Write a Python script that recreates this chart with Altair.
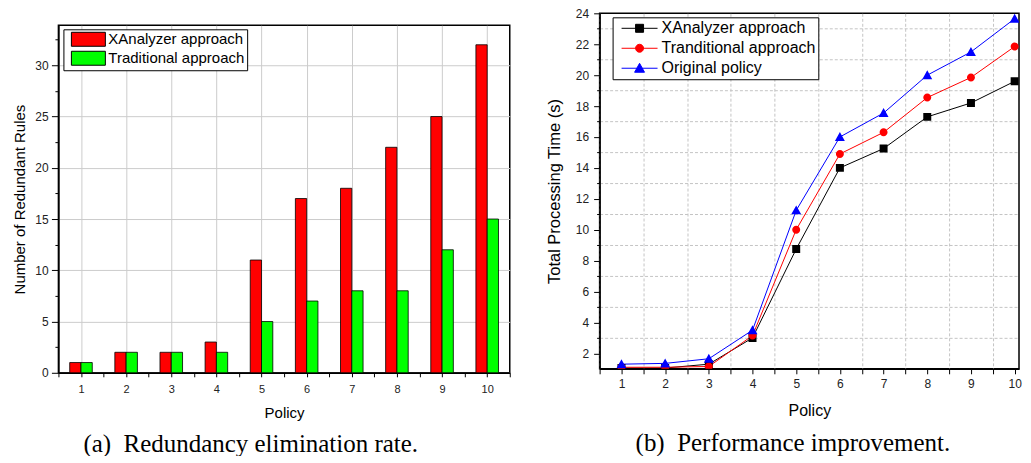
import altair as alt
import pandas as pd

# ---------------- data ----------------
policy = list(range(1, 11))

rule_series = ["XAnalyzer approach", "Traditional approach"]
xanalyzer_rules = [1, 2, 2, 3, 11, 17, 18, 22, 25, 32]
traditional_rules = [1, 2, 2, 2, 5, 7, 8, 8, 12, 15]

time_series = ["XAnalyzer approach", "Tranditional approach", "Original policy"]
xanalyzer_time = [1.05, 1.05, 1.3, 3.0, 8.75, 14.0, 15.25, 17.3, 18.2, 19.6]
traditional_time = [1.1, 1.1, 1.15, 3.15, 10.0, 14.9, 16.3, 18.55, 19.85, 21.85]
original_time = [1.3, 1.35, 1.65, 3.5, 11.25, 16.0, 17.55, 20.0, 21.5, 23.65]

left_y_ticks = [0, 5, 10, 15, 20, 25, 30]
left_y_minor = [2.5, 7.5, 12.5, 17.5, 22.5, 27.5, 32.5]
right_y_ticks = [2, 4, 6, 8, 10, 12, 14, 16, 18, 20, 22, 24]
right_y_minor = [3, 5, 7, 9, 11, 13, 15, 17, 19, 21, 23]
half_ticks = [0.5, 1.5, 2.5, 3.5, 4.5, 5.5, 6.5, 7.5, 8.5, 9.5, 10.5]

left_y_title = "Number of Redundant Rules"
right_y_title = "Total Processing Time (s)"
x_title = "Policy"
caption_a = "(a)\u00a0 Redundancy elimination rate."
caption_b = "(b)\u00a0 Performance improvement."

# ---------------- tables ----------------
rules_df = pd.DataFrame({
    "policy": policy * 2,
    "series": [s for s in rule_series for _ in policy],
    "idx": [i for i in range(len(rule_series)) for _ in policy],
    "rules": xanalyzer_rules + traditional_rules,
})
time_df = pd.DataFrame({
    "policy": policy * 3,
    "series": [s for s in time_series for _ in policy],
    "time": xanalyzer_time + traditional_time + original_time,
})
empty_df = pd.DataFrame({"v": pd.Series([], dtype="float64")})

SANS = "Liberation Sans"
SERIF = "Liberation Serif"
LABEL = "#222222"

# ---------------- left panel: grouped bars ----------------
x_scale_l = alt.Scale(domain=[0.5, 10.5], nice=False, zero=False)
y_scale_l = alt.Scale(domain=[0, 33.9], nice=False)

x_axis_l = alt.Axis(
    orient="bottom", values=policy, format="d", labelOverlap=False,
    labelFlush=False, labelBound=False,
    tickSize=4, tickColor="black", labelPadding=7, labelFontSize=11, labelFont=SANS,
    labelColor=LABEL, domainColor="black", domainWidth=1.5,
    title=x_title, titleFont=SANS, titleFontSize=15, titleFontWeight="normal",
    titleColor="black", titlePadding=10.5,
    grid=True, gridColor="#cccccc", gridWidth=1,
)
y_axis_l = alt.Axis(
    orient="left", values=left_y_ticks, format="d", labelOverlap=False,
    labelFlush=False, labelBound=False,
    tickSize=7, tickColor="black", labelPadding=3.3, labelFontSize=12, labelFont=SANS,
    labelColor=LABEL, domainColor="black", domainWidth=1.5, minExtent=24, maxExtent=24,
    title=left_y_title, titleFont=SANS, titleFontSize=15, titleFontWeight="normal",
    titleColor="black", titlePadding=6.5,
    grid=True, gridColor="#cccccc", gridWidth=1,
)

legend_l = alt.Legend(
    title=None, orient="none", legendX=5, legendY=16,
    symbolType="M-2.43,-1H2.43V1H-2.43Z", symbolSize=196,
    symbolStrokeColor="black", symbolStrokeWidth=1,
    symbolOffset=15, labelOffset=12.5, labelFont=SANS, labelFontSize=15,
    labelColor="black", rowPadding=0, padding=2.5,
    strokeColor="black", fillColor="white",
)

bars = alt.Chart(rules_df).transform_calculate(
    x_start="datum.policy - 0.25 + 0.25 * datum.idx",
    x_end="datum.policy + 0.25 * datum.idx",
).mark_bar(stroke="black", strokeWidth=0.8).encode(
    x=alt.X("x_start:Q", scale=x_scale_l, axis=x_axis_l),
    x2="x_end:Q",
    y=alt.Y("rules:Q", scale=y_scale_l, axis=y_axis_l),
    y2=alt.datum(0),
    color=alt.Color("series:N", scale=alt.Scale(domain=rule_series, range=["#ff0000", "#00ff00"]),
                    legend=legend_l),
)

minor_l = alt.Chart(rules_df).mark_point(opacity=0).encode(
    x=alt.X("policy:Q", scale=x_scale_l,
            axis=alt.Axis(orient="bottom", values=half_ticks, labels=False, tickSize=4,
                          tickColor="black", domain=False, grid=False, title=None)),
    y=alt.Y("rules:Q", scale=y_scale_l,
            axis=alt.Axis(orient="left", values=left_y_minor, labels=False, tickSize=3.5,
                          tickColor="black", domain=False, grid=False, title=None)),
)

left_panel = alt.layer(bars, minor_l).resolve_axis(x="independent", y="independent").properties(
    width=452, height=348,
    title=alt.TitleParams(caption_a, orient="bottom", anchor="start", frame="group", dx=25,
                          offset=12.3, font=SERIF, fontSize=25, fontWeight="normal",
                          color="black", baseline="top"),
)

# empty strip that lowers the left frame relative to the right one
spacer = alt.Chart(empty_df).mark_point().encode(
    x=alt.X("v:Q", axis=None), y=alt.Y("v:Q", axis=None)
).properties(width=452, height=11, view=alt.ViewBackground(stroke="transparent", strokeWidth=0))

left = alt.vconcat(spacer, left_panel, spacing=0)

# ---------------- right panel: lines with markers ----------------
x_scale_r = alt.Scale(domain=[0.5, 10.1], nice=False, zero=False)
y_scale_r = alt.Scale(domain=[1, 24], nice=False, zero=False)

x_axis_r = alt.Axis(
    orient="bottom", values=policy, format="d", labelOverlap=False,
    labelFlush=False, labelBound=False,
    tickSize=5, tickColor="black", labelPadding=5, labelFontSize=12, labelFont=SANS,
    labelColor=LABEL, domainColor="black", domainWidth=1.5,
    title=x_title, titleFont=SANS, titleFontSize=16, titleFontWeight="normal",
    titleColor="black", titlePadding=12.6, grid=False,
)
y_axis_r = alt.Axis(
    orient="left", values=right_y_ticks, format="d", labelOverlap=False,
    labelFlush=False, labelBound=False,
    tickSize=6, tickColor="black", labelPadding=5, labelFontSize=12, labelFont=SANS,
    labelColor=LABEL, domainColor="black", domainWidth=1.5, minExtent=24, maxExtent=24,
    title=right_y_title, titleFont=SANS, titleFontSize=16.5, titleFontWeight="normal",
    titleColor="black", titlePadding=12.7, grid=False,
)

time_colors = ["#000000", "#ff0000", "#0000ff"]
# marker paths; the horizontal segment is only stroked in the legend
marker_paths = [
    "M-2.25,0H2.25M-0.5,-0.5H0.5V0.5H-0.5Z",
    "M-2.25,0H2.25M-0.5,0A0.5,0.5,0,1,1,0.5,0A0.5,0.5,0,1,1,-0.5,0Z",
    "M-2.25,0H2.25M0,-0.62L0.62,0.5L-0.62,0.5Z",
]

legend_r = alt.Legend(
    title=None, orient="none", legendX=13, legendY=4,
    symbolSize=256, symbolStrokeWidth=1, symbolOpacity=1,
    symbolOffset=16, labelOffset=13.5, labelFont=SANS, labelFontSize=16,
    labelColor="black", rowPadding=3, padding=2.5,
    strokeColor="black", fillColor="white",
)

color_r = alt.Color("series:N", scale=alt.Scale(domain=time_series, range=time_colors), legend=legend_r)

lines = alt.Chart(time_df).mark_line(strokeWidth=1).encode(
    x=alt.X("policy:Q", scale=x_scale_r, axis=x_axis_r),
    y=alt.Y("time:Q", scale=y_scale_r, axis=y_axis_r),
    color=color_r,
)
points = alt.Chart(time_df).mark_point(filled=True, size=256, opacity=1, strokeWidth=0, clip=True).encode(
    x=alt.X("policy:Q", scale=x_scale_r, axis=None),
    y=alt.Y("time:Q", scale=y_scale_r, axis=None),
    color=color_r,
    stroke=alt.Stroke("series:N", scale=alt.Scale(domain=time_series, range=time_colors), legend=legend_r),
    shape=alt.Shape("series:N", scale=alt.Scale(domain=time_series, range=marker_paths), legend=legend_r),
)
minor_r = alt.Chart(time_df).mark_point(opacity=0).encode(
    x=alt.X("policy:Q", scale=x_scale_r,
            axis=alt.Axis(orient="bottom", values=half_ticks[:-1], labels=False, tickSize=5,
                          tickColor="black", domain=False, title=None,
                          grid=True, gridColor="#c4c4c4", gridWidth=1, gridDash=[3, 2])),
    y=alt.Y("time:Q", scale=y_scale_r,
            axis=alt.Axis(orient="left", values=right_y_minor, labels=False, tickSize=3,
                          tickColor="black", domain=False, title=None,
                          grid=True, gridColor="#c4c4c4", gridWidth=1, gridDash=[3, 2])),
)

right = alt.layer(minor_r, lines, points).resolve_axis(x="independent", y="independent").properties(
    width=420, height=356,
    title=alt.TitleParams(caption_b, orient="bottom", anchor="start", frame="group", dx=36,
                          offset=13.2, font=SERIF, fontSize=25, fontWeight="normal",
                          color="black", baseline="top"),
)

chart = alt.hconcat(left, right, spacing=34).resolve_scale(
    color="independent", shape="independent", stroke="independent"
).resolve_legend(
    color="independent", shape="independent", stroke="independent"
).properties(
    padding={"left": 3.5, "top": -2, "right": 0, "bottom": -3},
    background="white",
).configure_view(stroke="black", strokeWidth=1.5)

chart.save("out.html", embed_options={"renderer": "svg", "actions": False})
